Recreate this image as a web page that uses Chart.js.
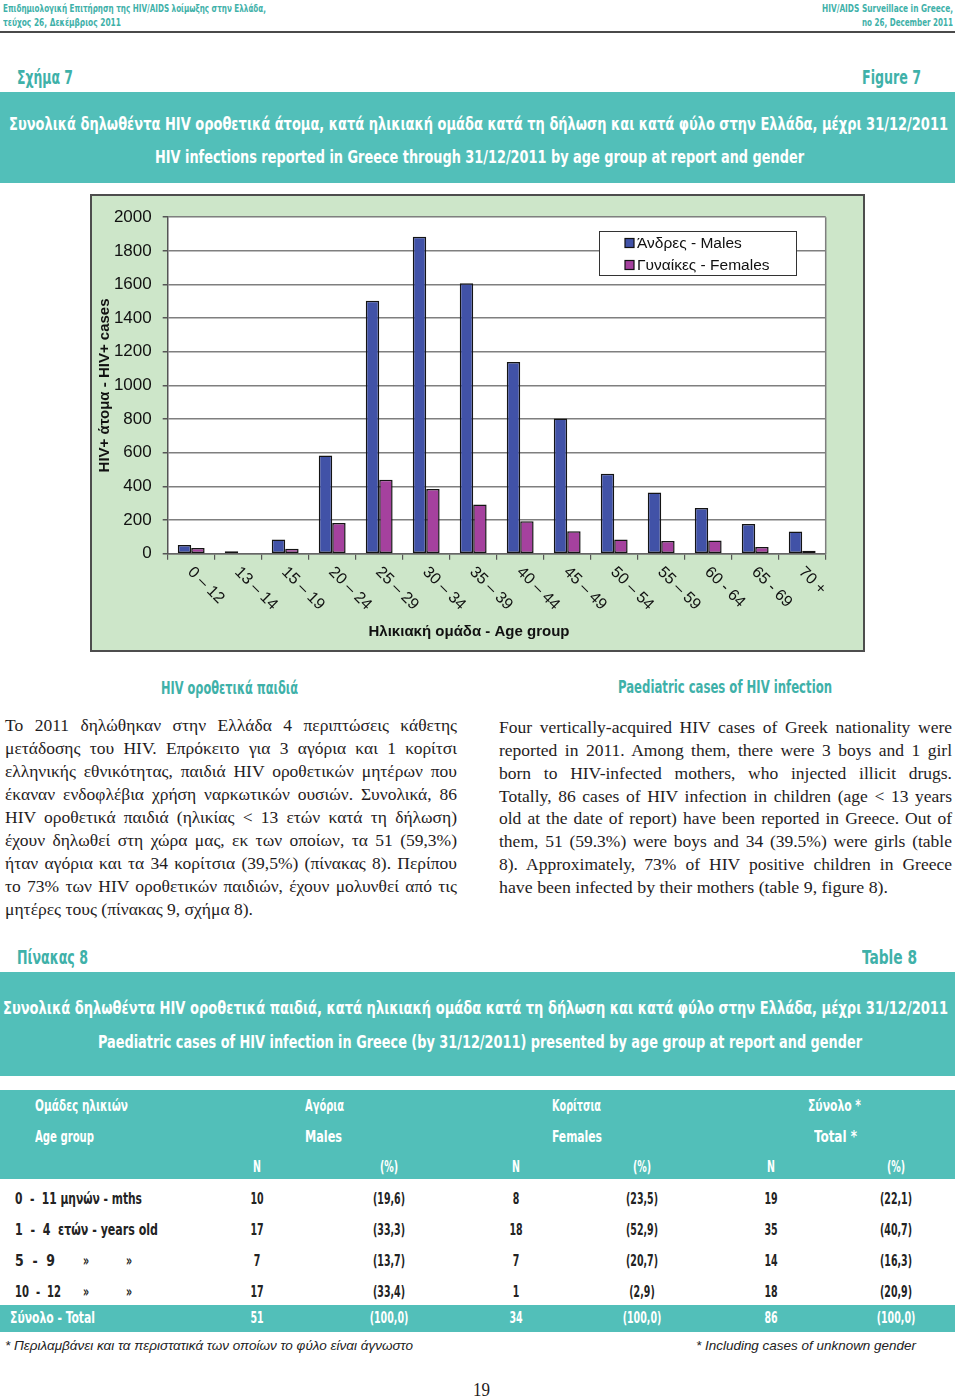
<!DOCTYPE html>
<html lang="el">
<head>
<meta charset="utf-8">
<title>HIV infections reported in Greece through 31/12/2011 by age group and gender</title>
<script src="https://cdn.jsdelivr.net/npm/chart.js@4.4.1/dist/chart.umd.min.js"></script>
<style>
html,body{margin:0;padding:0;background:#fff;}
body{width:960px;height:1399px;position:relative;overflow:hidden;}
.t{position:absolute;white-space:pre;line-height:1;transform-origin:0 50%;}
.cc{transform-origin:50% 50%;}
.c{font-family:"Liberation Sans Narrow","DejaVu Sans Condensed","Roboto","Liberation Sans",sans-serif;font-weight:bold;}
.teal{color:#3fb1a9;}
.wh{color:#fff;}
.dk{color:#232323;}
.s{font-family:"Liberation Serif","DejaVu Serif",serif;color:#1f1c1d;}
.it{font-family:"Liberation Sans",Arial,sans-serif;font-style:italic;color:#222;}
.band{position:absolute;left:0;width:955px;background:#52bfb9;}
#rule{position:absolute;left:0;top:31px;width:955px;height:2px;background:#4a4a4a;}
#chartBox{position:absolute;left:90px;top:194px;width:775px;height:458px;box-sizing:border-box;border:2px solid #4d4d4d;background:#cde6c9;}
#chartBox canvas{display:block;}
</style>
</head>
<body>
<div id="rule"></div>
<div class="band" style="top:92px;height:91px;"></div>
<div id="chartBox"><canvas id="chart" width="771" height="454"></canvas></div>
<div class="band" style="top:972px;height:104px;"></div>
<div class="band" style="top:1090px;height:89px;"></div>
<div class="band" style="top:1305px;height:27px;"></div>

<script>
// ---------------- chart data ----------------
const ageGroups = ['0 – 12','13 – 14','15 – 19','20 – 24','25 – 29','30 – 34','35 – 39',
                   '40 – 44','45 – 49','50 – 54','55 – 59','60 - 64','65 - 69','70 +'];
const males   = [51, 14, 85, 584, 1504, 1884, 1608, 1140, 803, 475, 364, 272, 177, 132];
const females = [34,  4, 30, 182,  439,  384,  292,  193, 134,  85,  75,  79,  40,  18];
const seriesNames = ['Άνδρες - Males', 'Γυναίκες - Females'];
const yMin = 0, yMax = 2000, yStep = 200;
const yTitle = 'HIV+ άτομα - HIV+ cases';
const xTitle = 'Ηλικιακή ομάδα - Age group';

const decor = {
  id: 'decor',
  beforeDraw(chart) {
    const {ctx, chartArea: a} = chart;
    ctx.save();
    ctx.fillStyle = '#ffffff';
    ctx.fillRect(a.left, a.top, a.right - a.left, a.bottom - a.top);
    ctx.restore();
  },
  afterDraw(chart) {
    const {ctx, chartArea: a} = chart;
    const xs = chart.scales.x;
    ctx.save();
    // right border of plot area
    ctx.strokeStyle = '#7f7f7f'; ctx.lineWidth = 1.5;
    ctx.beginPath(); ctx.moveTo(a.right, a.top); ctx.lineTo(a.right, a.bottom); ctx.stroke();
    // rotated category labels
    ctx.fillStyle = '#111';
    ctx.font = '16px "Liberation Sans", Arial, sans-serif';
    ctx.textAlign = 'left'; ctx.textBaseline = 'middle';
    chart.data.labels.forEach((lab, i) => {
      const px = xs.getPixelForValue(i);
      ctx.save();
      ctx.translate(px - 1, xs.top + 16);
      ctx.rotate(Math.PI / 4);
      ctx.fillText(lab, 0, 0);
      ctx.restore();
    });
    // x axis title
    ctx.font = 'bold 15px "Liberation Sans", Arial, sans-serif';
    ctx.textAlign = 'center';
    ctx.fillText(xTitle, 377, 436);
    // legend
    const lx = 507, ly = 35, lw = 197, lh = 44;
    ctx.fillStyle = '#fff'; ctx.fillRect(lx, ly, lw, lh);
    ctx.strokeStyle = '#333'; ctx.lineWidth = 1; ctx.strokeRect(lx + 0.5, ly + 0.5, lw, lh);
    ctx.font = '15.5px "Liberation Sans", Arial, sans-serif';
    ctx.textAlign = 'left';
    chart.data.datasets.forEach((ds, i) => {
      const cy = 47 + i * 22;
      ctx.fillStyle = ds.backgroundColor;
      ctx.fillRect(533, cy - 4.5, 9, 9);
      ctx.strokeStyle = '#111'; ctx.lineWidth = 1.2;
      ctx.strokeRect(533, cy - 4.5, 9, 9);
      ctx.fillStyle = '#111';
      ctx.fillText(ds.label, 545, cy + 0.5);
    });
    ctx.restore();
  }
};

new Chart(document.getElementById('chart'), {
  type: 'bar',
  data: {
    labels: ageGroups,
    datasets: [
      {label: seriesNames[0], data: males, backgroundColor: '#4152a7', borderColor: '#141414', borderWidth: 1.5, borderSkipped: false},
      {label: seriesNames[1], data: females, backgroundColor: '#a5419e', borderColor: '#141414', borderWidth: 1.5, borderSkipped: false}
    ]
  },
  options: {
    responsive: false,
    animation: false,
    devicePixelRatio: 1,
    layout: {padding: {top: 19, right: 37.3, bottom: 0, left: 0}},
    datasets: {bar: {categoryPercentage: 2 / 3.5, barPercentage: 1}},
    plugins: {legend: {display: false}, tooltip: {enabled: false}},
    scales: {
      x: {
        grid: {offset: true, drawOnChartArea: false, drawTicks: true, tickLength: 6, tickColor: '#555', lineWidth: 1.2},
        border: {color: '#666', width: 1.5},
        ticks: {display: false},
        afterFit: s => { s.height = 96.3; }
      },
      y: {
        min: yMin, max: yMax,
        ticks: {stepSize: yStep, padding: 11, color: '#111', font: {family: '"Liberation Sans", Arial, sans-serif', size: 17},
                callback: v => String(v)},
        grid: {color: '#7f7f7f', lineWidth: 1.5, tickLength: 5, tickColor: '#555'},
        border: {color: '#555', width: 1.5},
        title: {display: true, text: yTitle, color: '#111', font: {family: '"Liberation Sans", Arial, sans-serif', size: 15, weight: 'bold'}, padding: {top: 4, bottom: 4}},
        afterFit: s => { s.width = 75.7; }
      }
    }
  },
  plugins: [decor]
});

// ---------------- page text ----------------
const items = [];
function T(txt, x, cy, w, cls, fs, mode) {
  const el = document.createElement('span');
  el.className = 't ' + cls;
  el.textContent = txt;
  el.style.fontSize = fs + 'px';
  el.style.left = x + 'px';
  el.style.top = (cy - fs * 0.5) + 'px';
  document.body.appendChild(el);
  items.push([el, w, mode || 's']);
  return el;
}
function S(txt, x, base, w, fs, mode) { // serif body line by baseline
  const el = T(txt, x, 0, w, 's', fs, mode);
  el.style.top = (base - fs * 0.84) + 'px';
}
const centered = [];
function C(txt, cx, cy, cls, fs) {
  const el = document.createElement('span');
  el.className = 't cc ' + cls;
  el.textContent = txt;
  el.style.fontSize = fs + 'px';
  el.style.left = cx + 'px';
  el.style.top = (cy - fs * 0.5) + 'px';
  document.body.appendChild(el);
  centered.push(el);
}

// header
T('Επιδημιολογική Επιτήρηση της HIV/AIDS λοίμωξης στην Ελλάδα,', 3, 8, 263, 'c teal', 11);
T('τεύχος 26, Δεκέμβριος 2011', 3, 22, 118, 'c teal', 11);
T('HIV/AIDS Surveillace in Greece,', 822, 8, 131, 'c teal', 11);
T('no 26, December 2011', 862, 22, 91, 'c teal', 11);

T('Σχήμα 7', 17, 77, 56, 'c teal', 20);
T('Figure 7', 862, 77, 59, 'c teal', 20);
T('Συνολικά δηλωθέντα HIV οροθετικά άτομα, κατά ηλικιακή ομάδα κατά τη δήλωση και κατά φύλο στην Ελλάδα, μέχρι 31/12/2011', 9, 124, 939, 'c wh', 18);
T('HIV infections reported in Greece through 31/12/2011 by age group at report and gender', 155, 157, 649, 'c wh', 18);

// section headings
T('HIV οροθετικά παιδιά', 161, 688, 137, 'c teal', 18);
T('Paediatric cases of HIV infection', 618, 687, 214, 'c teal', 18);

// body text
const leftLines = [
  'Το 2011 δηλώθηκαν στην Ελλάδα 4 περιπτώσεις κάθετης',
  'μετάδοσης του HIV. Επρόκειτο για 3 αγόρια και 1 κορίτσι',
  'ελληνικής εθνικότητας, παιδιά HIV οροθετικών μητέρων που',
  'έκαναν ενδοφλέβια χρήση ναρκωτικών ουσιών. Συνολικά, 86',
  'HIV οροθετικά παιδιά (ηλικίας < 13 ετών κατά τη δήλωση)',
  'έχουν δηλωθεί στη χώρα μας, εκ των οποίων, τα 51 (59,3%)',
  'ήταν αγόρια και τα 34 κορίτσια (39,5%) (πίνακας 8). Περίπου',
  'το 73% των HIV οροθετικών παιδιών, έχουν μολυνθεί από τις',
  'μητέρες τους (πίνακας 9, σχήμα 8).'
];
const rightLines = [
  'Four vertically-acquired HIV cases of Greek nationality were',
  'reported in 2011. Among them, there were 3 boys and 1 girl',
  'born to HIV-infected mothers, who injected illicit drugs.',
  'Totally, 86 cases of HIV infection in children (age < 13 years',
  'old at the date of report) have been reported in Greece. Out of',
  'them, 51 (59.3%) were boys and 34 (39.5%) were girls (table',
  '8). Approximately, 73% of HIV positive children in Greece',
  'have been infected by their mothers (table 9, figure 8).'
];
leftLines.forEach((l, i) => {
  const last = i === leftLines.length - 1;
  S(l, 5, 732 + 23 * i, last ? 248 : 452, 17.5, last ? 's' : 'j');
});
rightLines.forEach((l, i) => {
  const last = i === rightLines.length - 1;
  S(l, 499, 733.5 + 22.9 * i, last ? 389 : 453, 17.5, last ? 's' : 'j');
});

// table title
T('Πίνακας 8', 17, 957, 71, 'c teal', 19);
T('Table 8', 862, 957, 55, 'c teal', 19);
T('Συνολικά δηλωθέντα HIV οροθετικά παιδιά, κατά ηλικιακή ομάδα κατά τη δήλωση και κατά φύλο στην Ελλάδα, μέχρι 31/12/2011', 3, 1008, 945, 'c wh', 18);
T('Paediatric cases of HIV infection in Greece (by 31/12/2011) presented by age group at report and gender', 98, 1042, 764, 'c wh', 18);

// table header
T('Ομάδες ηλικιών', 35, 1106, 93, 'c wh', 16);
T('Age group', 35, 1137, 59, 'c wh', 16);
T('Αγόρια', 305, 1106, 39, 'c wh', 16);
T('Males', 305, 1137, 37, 'c wh', 16);
T('Κορίτσια', 552, 1106, 49, 'c wh', 16);
T('Females', 552, 1137, 50, 'c wh', 16);
T('Σύνολο *', 808, 1106, 53, 'c wh', 16);
T('Total *', 814, 1137, 43, 'c wh', 16);
const colX = [257, 389, 516, 642, 771, 896];
['N', '(%)', 'N', '(%)', 'N', '(%)'].forEach((h, i) => C(h, colX[i], 1167, 'c wh', 16));

// table rows
const rowY = [1199, 1230, 1261, 1292];
T('0  -  11 μηνών - mths', 15, rowY[0], 127, 'c dk', 16);
T('1  -  4  ετών - years old', 15, rowY[1], 143, 'c dk', 16);
T('5  -  9', 15, rowY[2], 40, 'c dk', 16);
T('10  -  12', 15, rowY[3], 46, 'c dk', 16);
[2, 3].forEach(r => { C('»', 86, rowY[r], 'c dk', 16); C('»', 129, rowY[r], 'c dk', 16); });
const rows = [
  ['10', '(19,6)', '8', '(23,5)', '19', '(22,1)'],
  ['17', '(33,3)', '18', '(52,9)', '35', '(40,7)'],
  ['7', '(13,7)', '7', '(20,7)', '14', '(16,3)'],
  ['17', '(33,4)', '1', '(2,9)', '18', '(20,9)']
];
rows.forEach((r, ri) => r.forEach((v, ci) => C(v, colX[ci], rowY[ri], 'c dk', 16)));
T('Σύνολο - Total', 10, 1318, 85, 'c wh', 16);
['51', '(100,0)', '34', '(100,0)', '86', '(100,0)'].forEach((v, ci) => C(v, colX[ci], 1318, 'c wh', 16));

// footnotes & page number
T('* Περιλαμβάνει και τα περιστατικά των οποίων το φύλο είναι άγνωστο', 5, 1345, 408, 'it', 13);
T('* Including cases of unknown gender', 696, 1345, 220, 'it', 13);
T('19', 473, 1390, 17, 's', 18);

function fitAll() {
  items.forEach(([el, W, mode]) => {
    el.style.transform = ''; el.style.wordSpacing = '';
    const w = el.getBoundingClientRect().width;
    if (!w) return;
    if (mode === 'j' && w < W) {
      const n = (el.textContent.match(/ /g) || []).length;
      if (n) { el.style.wordSpacing = ((W - w) / n) + 'px'; return; }
    }
    el.style.transform = 'scaleX(' + (W / w) + ')';
  });
  // condensation factor for centered table cells
  const probe = document.createElement('span');
  probe.className = 't c'; probe.style.fontSize = '16px'; probe.style.visibility = 'hidden';
  probe.textContent = '(19,6)';
  document.body.appendChild(probe);
  const k = 32 / probe.getBoundingClientRect().width;
  probe.remove();
  centered.forEach(el => { el.style.transform = 'translateX(-50%) scaleX(' + k + ')'; });
}
fitAll();
if (document.fonts && document.fonts.ready) document.fonts.ready.then(fitAll);
</script>
</body>
</html>
